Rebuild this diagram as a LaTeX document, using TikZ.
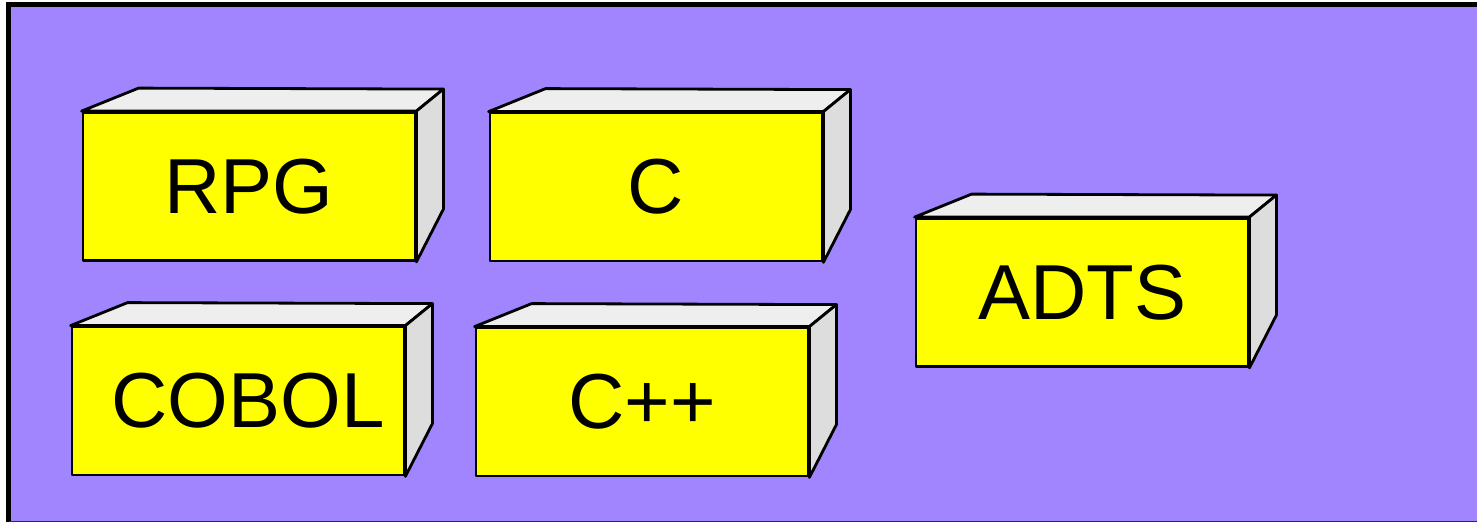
\documentclass[tikz,border=0pt]{standalone}
\usepackage{fontspec}
\setmainfont{Liberation Sans}
\definecolor{bgpurple}{HTML}{A085FF}
\definecolor{topgray}{HTML}{EEEEEE}
\definecolor{sidegray}{HTML}{DDDDDD}
\definecolor{boxyellow}{HTML}{FFFF00}
\tikzset{
  front/.style={draw=black, line width=2.8pt, fill=boxyellow, minimum width=332pt, minimum height=148pt,
    inner sep=0pt, font=\fontsize{78}{90}\selectfont, line join=round},
  topface/.style={draw=black, line width=2.8pt, fill=topgray, line join=round},
  sideface/.style={draw=black, line width=2.8pt, fill=sidegray, line join=round},
}
\newcommand{\boxfaces}[1]{%
  \draw[topface] (#1.north west) -- ++(57,-23) -- ([shift={(27,-22)}]#1.north east) -- (#1.north east) -- cycle;
  \draw[sideface] (#1.north east) -- ++(27,-22) -- ([shift={(27,98)}]#1.north east) -- (#1.south east) -- cycle;
}
\begin{document}
\begin{tikzpicture}[x=1pt,y=-1pt]
\useasboundingbox (0,0) rectangle (1477,522);
\fill[white] (0,0) rectangle (1477,522);
\fill[bgpurple] (8.5,4.5) rectangle (1477,522);
\draw[line width=5pt] (8.5,522) -- (8.5,4.5) -- (1477,4.5);
\draw[line width=1.5pt, color=black!70!bgpurple] (8.5,521.5) -- (1477,521.5);

\node[front] (rpg) at (249,186.5) {RPG};
\boxfaces{rpg}
\node[front] (c) at (656,187) {C};
\boxfaces{c}
\node[front] (cobol) at (238,401) {\hspace*{20pt}COBOL};
\boxfaces{cobol}
\node[front] (cpp) at (642,402) {C++};
\boxfaces{cpp}
\node[front] (adts) at (1082,292.5) {ADTS};
\boxfaces{adts}
\end{tikzpicture}
\end{document}
